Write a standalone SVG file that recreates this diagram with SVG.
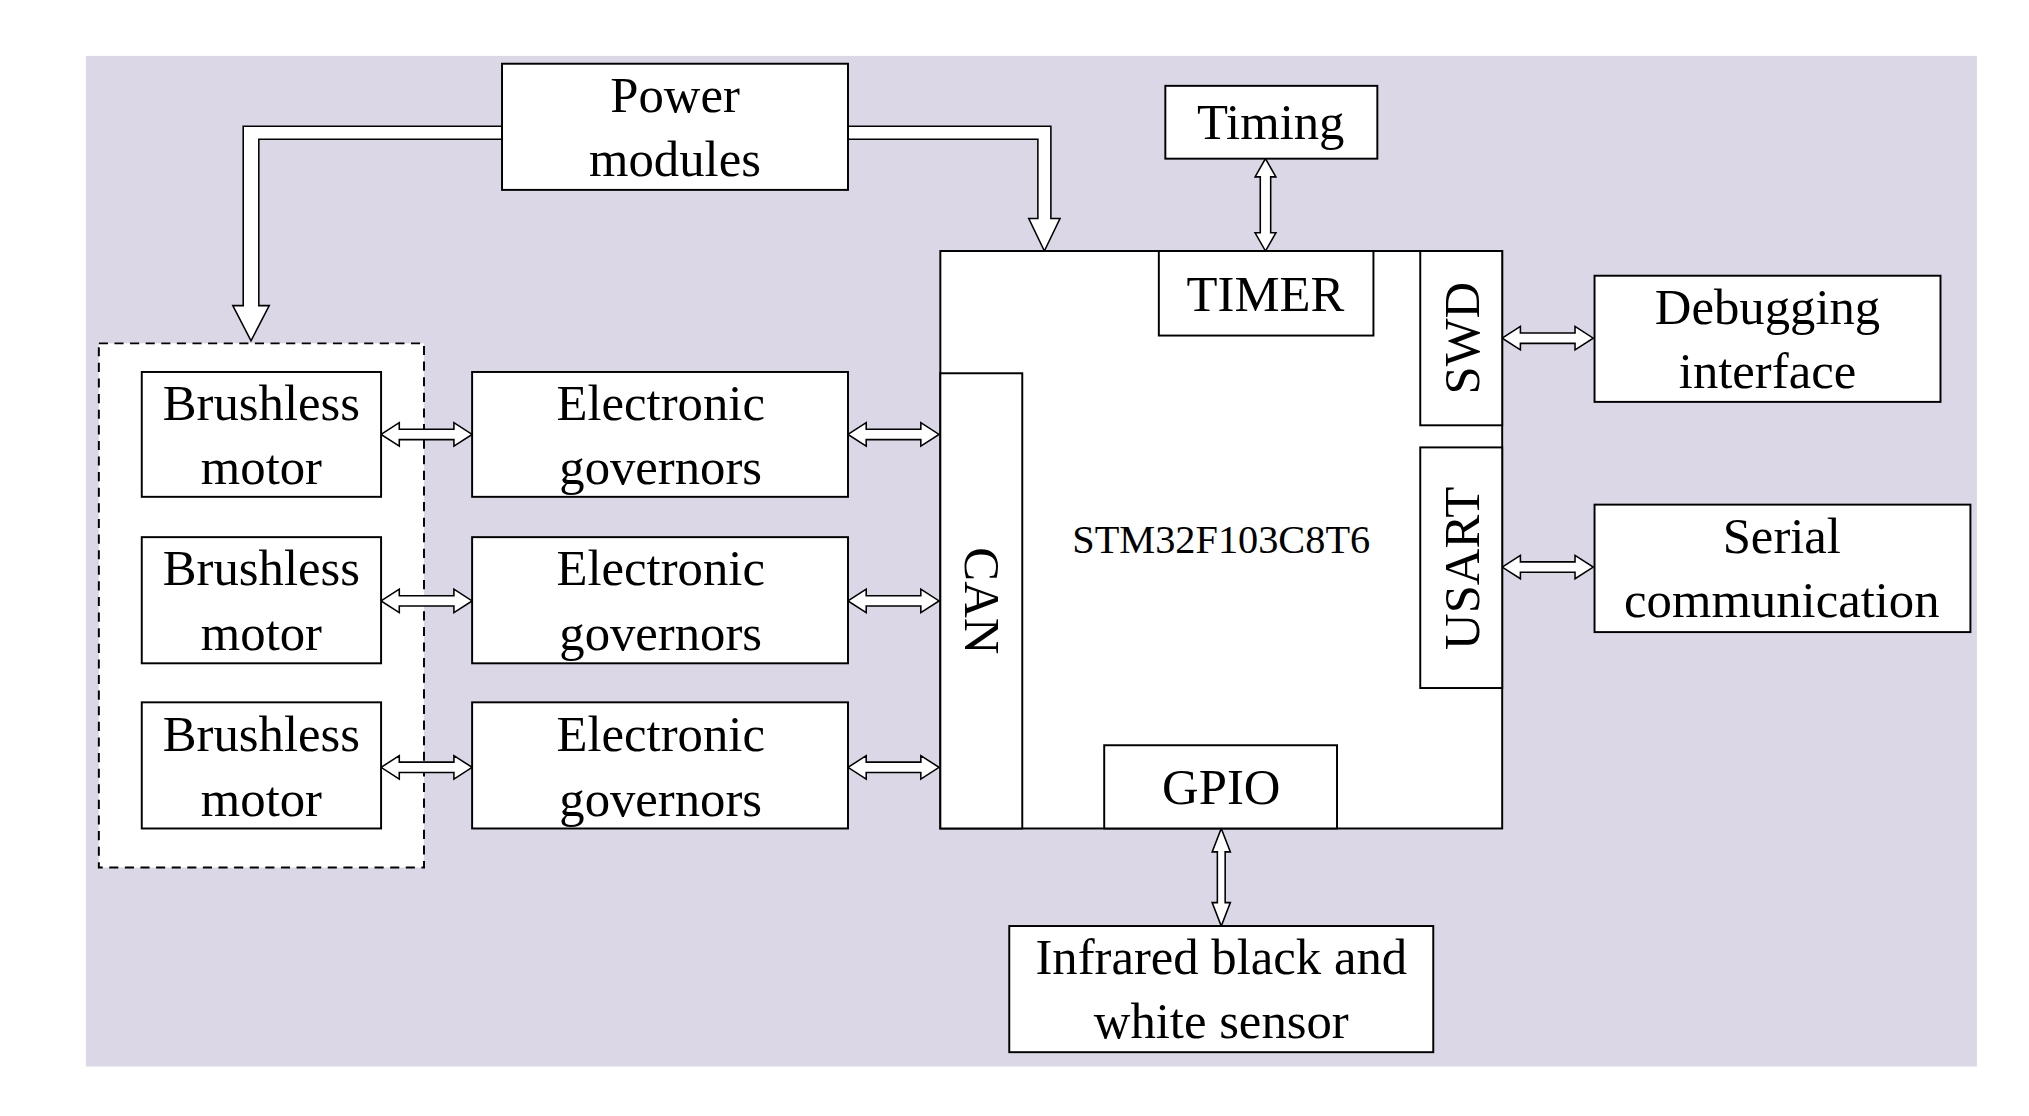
<svg xmlns="http://www.w3.org/2000/svg" width="2029" height="1116" viewBox="0 0 2029 1116">
<defs>
<style>
.b{fill:#fff;stroke:#000;stroke-width:1.5}
.t{font-family:"Liberation Serif","Times New Roman",serif;font-size:39px;text-anchor:middle;dominant-baseline:central;fill:#000}
.a{fill:#fff;stroke:#000;stroke-width:1.2}
</style>
<path id="h" class="a" d="M0,0 L14,-9 L14,-4 L56,-4 L56,-9 L70,0 L56,9 L56,4 L14,4 L14,9 Z"/>
</defs>
<rect width="2029" height="1116" fill="#fff"/>
<g transform="scale(1.3006)">
<rect x="66" y="43" width="1454" height="777" fill="#dcd7e6"/>
<g id="motors-group"><rect x="76" y="264" width="250" height="403" fill="#fff" stroke="#000" stroke-width="1.5" stroke-dasharray="7,5"/></g>
<g id="connectors">
<polygon class="a" points="386,97 187,97 187,235 179,235 193,262 207,235 199,235 199,107 386,107"/>
<polygon class="a" points="652,97 808,97 808,168 815,168 803,193 791,168 798,168 798,107 652,107"/>
<use href="#h" x="293" y="334"/><use href="#h" x="293" y="462"/><use href="#h" x="293" y="590"/>
<use href="#h" x="652" y="334"/><use href="#h" x="652" y="462"/><use href="#h" x="652" y="590"/>
<use href="#h" x="1155" y="260"/><use href="#h" x="1155" y="436"/>
<path class="a" d="M973,122 L981,136 L977,136 L977,179 L981,179 L973,193 L965,179 L969,179 L969,136 L965,136 Z"/>
<path class="a" d="M939,637 L946,655 L942,655 L942,694 L946,694 L939,712 L932,694 L936,694 L936,655 L932,655 Z"/>
</g>
<g id="power"><rect class="b" x="386" y="49" width="266" height="97"/><text class="t" x="519" y="73">Power</text><text class="t" x="519" y="122">modules</text></g>
<g id="timing"><rect class="b" x="896" y="66" width="163" height="56"/><text class="t" x="977" y="94">Timing</text></g>
<g id="mcu"><rect class="b" x="723" y="193" width="432" height="444"/>
<text class="t" x="939" y="415" style="font-size:31px">STM32F103C8T6</text></g>
<g id="timer"><rect class="b" x="891" y="193" width="165" height="65"/><text class="t" x="973" y="226">TIMER</text></g>
<g id="swd"><rect class="b" x="1092" y="193" width="63" height="134"/><text class="t" transform="translate(1124,260) rotate(-90)">SWD</text></g>
<g id="usart"><rect class="b" x="1092" y="344" width="63" height="185"/><text class="t" transform="translate(1124,437) rotate(-90)">USART</text></g>
<g id="can"><rect class="b" x="723" y="287" width="63" height="350"/><text class="t" transform="translate(755,462) rotate(90)">CAN</text></g>
<g id="gpio"><rect class="b" x="849" y="573" width="179" height="64"/><text class="t" x="939" y="605">GPIO</text></g>
<g id="debug"><rect class="b" x="1226" y="212" width="266" height="97"/><text class="t" x="1359" y="236">Debugging</text><text class="t" x="1359" y="285">interface</text></g>
<g id="serial"><rect class="b" x="1226" y="388" width="289" height="98"/><text class="t" x="1370" y="412">Serial</text><text class="t" x="1370" y="461">communication</text></g>
<g id="sensor"><rect class="b" x="776" y="712" width="326" height="97"/><text class="t" x="939" y="736">Infrared black and</text><text class="t" x="939" y="785">white sensor</text></g>
<g id="motor1"><rect class="b" x="109" y="286" width="184" height="96"/><text class="t" x="201" y="310">Brushless</text><text class="t" x="201" y="359">motor</text></g>
<g id="motor2"><rect class="b" x="109" y="413" width="184" height="97"/><text class="t" x="201" y="437">Brushless</text><text class="t" x="201" y="487">motor</text></g>
<g id="motor3"><rect class="b" x="109" y="540" width="184" height="97"/><text class="t" x="201" y="564">Brushless</text><text class="t" x="201" y="614">motor</text></g>
<g id="gov1"><rect class="b" x="363" y="286" width="289" height="96"/><text class="t" x="508" y="310">Electronic</text><text class="t" x="508" y="359">governors</text></g>
<g id="gov2"><rect class="b" x="363" y="413" width="289" height="97"/><text class="t" x="508" y="437">Electronic</text><text class="t" x="508" y="487">governors</text></g>
<g id="gov3"><rect class="b" x="363" y="540" width="289" height="97"/><text class="t" x="508" y="564">Electronic</text><text class="t" x="508" y="614">governors</text></g>
</g>
</svg>
